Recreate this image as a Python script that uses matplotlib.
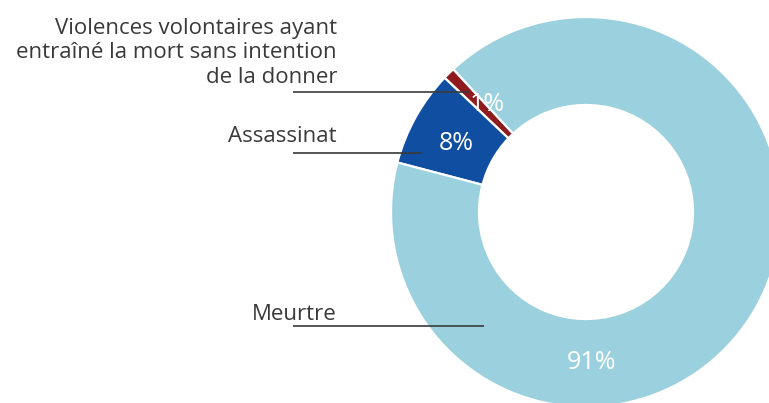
import matplotlib
matplotlib.use("Agg")
import matplotlib.pyplot as plt
import numpy as np

# data (counter-clockwise order starting at the top-left)
categories = ["Violences volontaires ayant\nentraîné la mort sans intention\nde la donner",
              "Assassinat", "Meurtre"]
shares = [1, 8, 91]
pct_labels = ["1%", "8%", "91%"]
colors = ["#8f1b1e", "#0f4ea1", "#9bd1de"]

W, H = 769, 403
CX, CY = 586, H - 212
R_OUT, R_IN = 195, 107

plt.rcParams["font.family"] = ["Open Sans", "DejaVu Sans"]
fig = plt.figure(figsize=(W / 100, H / 100), dpi=100)
ax = fig.add_axes([0, 0, 1, 1])

wedges, _ = ax.pie(shares, colors=colors, center=(CX, CY), radius=R_OUT,
                   startangle=132.9, counterclock=True, frame=True,
                   wedgeprops=dict(width=R_OUT - R_IN, edgecolor="white",
                                   linewidth=1.6))
ax.set_xlim(0, W)
ax.set_ylim(0, H)
ax.set_aspect("equal")
ax.axis("off")

# percentage labels inside the ring
r_mid = (R_OUT + R_IN) / 2 - 3
angle_override = {2: -88}
for i, (w, txt) in enumerate(zip(wedges, pct_labels)):
    ang = angle_override.get(i, (w.theta1 + w.theta2) / 2 - (3 if i == 0 else 0))
    a = np.deg2rad(ang)
    ax.text(CX + r_mid * np.cos(a), CY + r_mid * np.sin(a), txt,
            ha="center", va="center_baseline", color="white", fontsize=18)

# category labels with leader lines (pixel positions from top)
text_baseline = [83, 142, 320]
line_y = [92, 153, 326]
line_x_end = [470, 422, 484]
for lab, tb, ly, lx in zip(categories, text_baseline, line_y, line_x_end):
    ax.text(337, H - tb, lab, ha="right", va="baseline", fontsize=16,
            fontweight="medium", color="#3a3a3a", linespacing=1.22)
    ax.plot([293, lx], [H - ly, H - ly], color="#3a3a3a", lw=1.2,
            solid_capstyle="butt", zorder=5)

fig.savefig("out.png", dpi=100)
